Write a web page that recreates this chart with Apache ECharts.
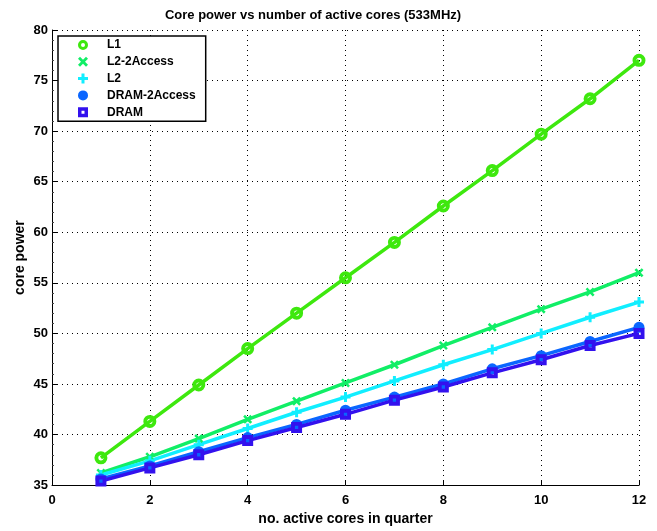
<!DOCTYPE html>
<html>
<head>
<meta charset="utf-8">
<script src="https://cdn.jsdelivr.net/npm/echarts@6/dist/echarts.min.js"></script>
<style>
  html, body { margin: 0; padding: 0; background: #fff; }
  #chart { width: 657px; height: 531px; }
</style>
</head>
<body>
<div id="chart"></div>
<script>
// active cores per quarter
var cores = [1, 2, 3, 4, 5, 6, 7, 8, 9, 10, 11, 12];

// core power
var l1          = [37.7, 41.3, 44.9, 48.5, 52.0, 55.5, 59.0, 62.6, 66.1, 69.7, 73.2, 77.0];
var l2Access2   = [36.2, 37.8, 39.6, 41.5, 43.3, 45.1, 46.9, 48.8, 50.6, 52.4, 54.1, 56.0];
var l2          = [36.0, 37.4, 39.0, 40.6, 42.2, 43.7, 45.3, 46.9, 48.4, 50.0, 51.6, 53.1];
var dramAccess2 = [35.6, 36.9, 38.3, 39.7, 41.0, 42.4, 43.7, 45.0, 46.5, 47.8, 49.2, 50.6];
var dram        = [35.4, 36.7, 38.0, 39.4, 40.7, 42.0, 43.4, 44.7, 46.1, 47.4, 48.8, 50.0];

var names = ['L1', 'L2-2Access', 'L2', 'DRAM-2Access', 'DRAM'];

var FONT = '"Liberation Sans", Arial, Helvetica, sans-serif';
// marker shapes (matlab-ish)
var xMark = 'path://M0,2 L2,0 L5,3 L8,0 L10,2 L7,5 L10,8 L8,10 L5,7 L2,10 L0,8 L3,5 Z';
var plusMark = 'path://M3.5,0 H6.5 V3.5 H10 V6.5 H6.5 V10 H3.5 V6.5 H0 V3.5 H3.5 Z';
var sqMark = 'path://M0,0 H10 V10 H0 Z M3.5,3.5 V6.5 H6.5 V3.5 Z';
var ringMark = 'path://M5,0 A5,5 0 1,1 4.99,0 Z M5,3 A2,2 0 1,0 5.01,3 Z';

function pairs(ys) {
    var out = [];
    for (var i = 0; i < cores.length; i++) out.push([cores[i], ys[i]]);
    return out;
}

function mkSeries(name, ys, color, symbol, size) {
    return {
        name: name,
        type: 'line',
        data: pairs(ys),
        symbol: symbol,
        symbolSize: size,
        lineStyle: { color: color, width: 3.5 },
        itemStyle: { color: color, borderWidth: 0 },
        emphasis: { disabled: true },
        animation: false
    };
}

var chart = echarts.init(document.getElementById('chart'));

chart.setOption({
    backgroundColor: '#fff',
    title: {
        text: 'Core power vs number of active cores (533MHz)',
        left: 308,
        textAlign: 'center',
        top: 4,
        textStyle: { fontFamily: FONT, fontSize: 13, fontWeight: 'bold', color: '#000' }
    },
    grid: { left: 52, right: 18, top: 30, bottom: 39 },
    legend: {
        orient: 'vertical',
        left: 58,
        top: 36,
        padding: [3, 10, 3, 20],
        itemWidth: 20,
        itemHeight: 10,
        itemGap: 4.8,
        borderColor: '#000',
        borderWidth: 1.5,
        backgroundColor: '#fff',
        textStyle: { fontFamily: FONT, fontSize: 12, fontWeight: 'bold', color: '#000', padding: [0, 0, 0, 9] },
        data: [
            { name: 'L1', icon: ringMark },
            { name: 'L2-2Access', icon: xMark },
            { name: 'L2', icon: plusMark },
            { name: 'DRAM-2Access', icon: 'circle' },
            { name: 'DRAM', icon: sqMark }
        ]
    },
    xAxis: {
        type: 'value',
        min: 0,
        max: 12,
        interval: 2,
        name: 'no. active cores in quarter',
        nameLocation: 'middle',
        nameGap: 24,
        nameTextStyle: { fontFamily: FONT, fontSize: 14, fontWeight: 'bold', color: '#000' },
        axisLine: { lineStyle: { color: '#000', width: 1 } },
        axisTick: { inside: true, length: 5, lineStyle: { color: '#000' } },
        axisLabel: { fontFamily: FONT, fontSize: 13, fontWeight: 'bold', color: '#000', margin: 9 },
        splitLine: { show: true, lineStyle: { color: '#000', type: [1, 4], width: 1 } }
    },
    yAxis: {
        type: 'value',
        min: 35,
        max: 80,
        interval: 5,
        name: 'core power',
        nameLocation: 'middle',
        nameGap: 25,
        nameMoveOverlap: false,
        nameTextStyle: { fontFamily: FONT, fontSize: 14, fontWeight: 'bold', color: '#000' },
        axisLine: { show: true, lineStyle: { color: '#000', width: 1 } },
        axisTick: { show: true, inside: true, length: 5, lineStyle: { color: '#000' } },
        minorTick: { show: true, splitNumber: 5, length: 2, lineStyle: { color: '#444' } },
        axisLabel: { fontFamily: FONT, fontSize: 13, fontWeight: 'bold', color: '#000', margin: 4 },
        splitLine: { show: true, lineStyle: { color: '#000', type: [1, 4], width: 1 } }
    },
    series: [
        mkSeries(names[0], l1, '#3ee80e', ringMark, 13),
        mkSeries(names[1], l2Access2, '#11ee66', xMark, 9),
        mkSeries(names[2], l2, '#11eeff', plusMark, 10),
        mkSeries(names[3], dramAccess2, '#0a66ff', 'circle', 11),
        mkSeries(names[4], dram, '#3311ee', sqMark, 11)
    ]
});
</script>
</body>
</html>
